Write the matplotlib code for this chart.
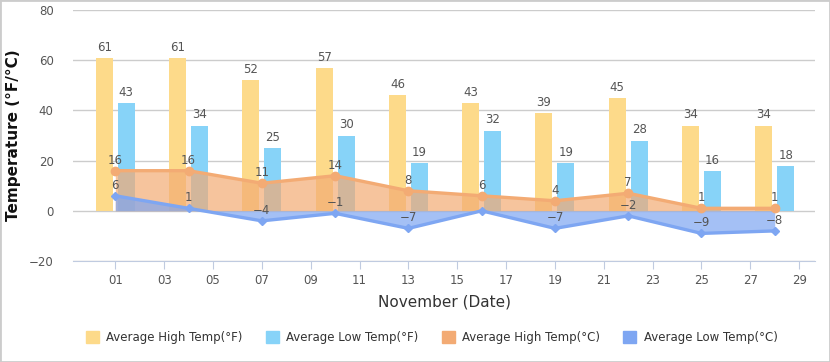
import matplotlib.pyplot as plt
import numpy as np
from matplotlib.patches import Rectangle

# data: dates in November and average temperatures
days = [1, 4, 7, 10, 13, 16, 19, 22, 25, 28]
high_f = [61, 61, 52, 57, 46, 43, 39, 45, 34, 34]
low_f = [43, 34, 25, 30, 19, 32, 19, 28, 16, 18]
high_c = [16, 16, 11, 14, 8, 6, 4, 7, 1, 1]
low_c = [6, 1, -4, -1, -7, 0, -7, -2, -9, -8]
tick_days = list(range(1, 30, 2))
tick_labels = ["%02d" % d for d in tick_days]
series_names = ["Average High Temp(°F)", "Average Low Temp(°F)",
                "Average High Temp(°C)", "Average Low Temp(°C)"]

c_yellow = "#FDDA8A"
c_sky = "#87D3F8"
c_orange = "#F3AB74"
c_blue = "#7EA6F2"
txt = "#555555"

fig = plt.figure(figsize=(8.3, 3.62), dpi=100)
ax = fig.add_axes([0.088, 0.279, 0.894, 0.693])

x = np.array(days)
w = 0.7
ax.bar(x - 0.45, high_f, w, color=c_yellow, zorder=2)
ax.bar(x + 0.45, low_f, w, color=c_sky, zorder=2)

# filled lines for Celsius
ax.fill_between(x, high_c, 0, color=c_orange, alpha=0.7, lw=0, zorder=3)
ax.fill_between(x, low_c, 0, color=c_blue, alpha=0.7, lw=0, zorder=3)
ax.plot(x, high_c, color=c_orange, lw=2.4, marker="o", ms=6, zorder=4)
ax.plot(x, low_c, color=c_blue, lw=2.4, marker="D", ms=4, zorder=4)

# value labels
def label(xs, vals, skip_zero=False):
    for xi, v in zip(xs, vals):
        if skip_zero and v == 0:
            continue
        ax.annotate(str(v).replace("-", "\u2212"), (xi, v), xytext=(0, 3),
                    textcoords="offset points", ha="center", va="bottom",
                    fontsize=8.5, color=txt, zorder=5)

label(x - 0.45, high_f)
label(x + 0.45, low_f)
label(x, high_c)
label(x, low_c, skip_zero=True)

ax.set_xlim(-0.73, 29.65)
ax.set_ylim(-20, 80)
ax.set_yticks([-20, 0, 20, 40, 60, 80])
ax.set_xticks(tick_days)
ax.set_xticklabels(tick_labels)
ax.grid(axis="y", color="#CCCCCC", lw=1, zorder=0)
ax.set_axisbelow(True)
for s in ["top", "right", "left"]:
    ax.spines[s].set_visible(False)
ax.spines["bottom"].set_color("#C0CBE0")
ax.tick_params(axis="x", colors="#C0CBE0", length=6, labelcolor=txt, labelsize=8.5)
ax.tick_params(axis="y", length=0, labelcolor=txt, labelsize=8.5, pad=14)

ax.set_ylabel("Temperature (°F/°C)", fontsize=11, fontweight="bold", color="#111111", labelpad=6)
ax.set_xlabel("November (Date)", fontsize=11, color="#333333", labelpad=5)

handles = [Rectangle((0, 0), 1, 1, color=c) for c in [c_yellow, c_sky, c_orange, c_blue]]
fig.legend(handles, series_names,
           loc="lower center", bbox_to_anchor=(0.52, 0.02), ncol=4, frameon=False,
           fontsize=8.5, handlelength=1.1, handleheight=1.1, columnspacing=2.0,
           handletextpad=0.6, labelcolor="#333333")

# outer frame
fig.patches.append(Rectangle((0, 0), 1, 1, transform=fig.transFigure, fill=False,
                             edgecolor="#CCCCCC", lw=2))

fig.savefig("out.png", dpi=100)
